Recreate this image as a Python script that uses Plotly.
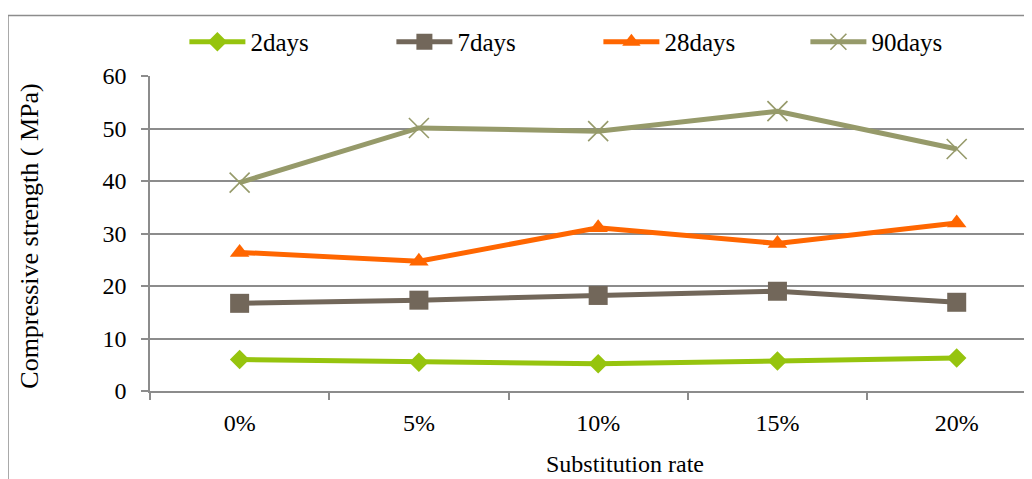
import plotly.graph_objects as go

categories = ["0%", "5%", "10%", "15%", "20%"]
days2 = [6.0, 5.5, 5.2, 5.7, 6.3]
days7 = [16.7, 17.3, 18.2, 19.0, 16.9]
days28 = [26.4, 24.7, 31.1, 28.1, 32.0]
days90 = [39.7, 50.1, 49.5, 53.3, 46.1]
series_names = ["2days", "7days", "28days", "90days"]
y_ticks = [0, 10, 20, 30, 40, 50, 60]

FONT = "Liberation Serif, Times New Roman, serif"
GRID = "#8C8C8C"

styles = [
    dict(color="#96C40E", symbol="diamond", size=15, lw=0),
    dict(color="#72675A", symbol="square", size=19, lw=0),
    dict(color="#FF6600", symbol="triangle-up", size=17, lw=0),
    dict(color="#969A6A", symbol="x-thin", size=20, lw=1.6),
]

fig = go.Figure()
for name, vals, st in zip(series_names, [days2, days7, days28, days90], styles):
    fig.add_trace(go.Scatter(
        x=categories, y=vals, name=name, mode="lines+markers",
        line=dict(color=st["color"], width=5),
        marker=dict(symbol=st["symbol"], size=st["size"], color=st["color"],
                    line=dict(color=st["color"], width=st["lw"])),
    ))

fig.update_layout(
    width=1024, height=471,
    margin=dict(l=142, r=0, t=68, b=88, autoexpand=False),
    paper_bgcolor="white", plot_bgcolor="white",
    font=dict(family=FONT, size=24, color="black"),
    showlegend=True,
    legend=dict(orientation="h", x=0.039, y=1.108, xanchor="left", yanchor="middle",
                font=dict(family=FONT, size=25, color="black"),
                entrywidth=136, entrywidthmode="pixels", itemwidth=56,
                bgcolor="rgba(0,0,0,0)"),
    xaxis=dict(type="category", range=[-0.5, 4.42], showgrid=False, automargin=False,
               showline=True, linecolor=GRID, linewidth=1.5,
               ticks="outside", tickson="boundaries", ticklen=7, tickcolor=GRID, tickwidth=1.5,
               ticklabelstandoff=9,
               tickfont=dict(family=FONT, size=24, color="black")),
    yaxis=dict(range=[0, 60], tickvals=y_ticks, showgrid=True, gridcolor=GRID, gridwidth=1.5,
               showline=True, linecolor=GRID, linewidth=1.5, zeroline=False, automargin=False,
               ticks="outside", ticklen=7, tickcolor=GRID, tickwidth=1.5,
               ticklabelstandoff=10,
               tickfont=dict(family=FONT, size=24, color="black")),
    annotations=[
        dict(text="Compressive strength ( MPa)", xref="paper", yref="paper",
             x=-0.136, y=0.49, xanchor="center", yanchor="middle", textangle=-90,
             showarrow=False, font=dict(family=FONT, size=26, color="black")),
        dict(text="Substitution rate", xref="paper", yref="paper",
             x=0.5385, y=-0.232, xanchor="center", yanchor="middle",
             showarrow=False, font=dict(family=FONT, size=24, color="black")),
    ],
    shapes=[dict(type="rect", xref="paper", yref="paper",
                 x0=-0.161, x1=1.05, y0=-0.5, y1=1.192,
                 line=dict(color=GRID, width=1.5), fillcolor="rgba(0,0,0,0)", layer="below")],
)

fig.write_html("out.html")
